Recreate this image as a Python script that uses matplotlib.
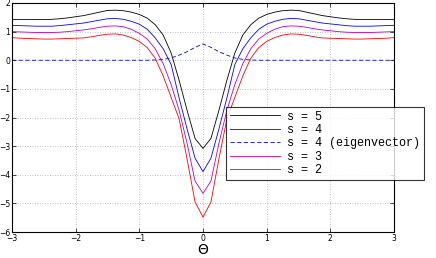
import numpy as np
import matplotlib
matplotlib.use("Agg")
import matplotlib.pyplot as plt

# half-grid (theta >= 0); curves are symmetric about theta = 0
theta_half = [0, 0.125, 0.25, 0.375, 0.5, 0.625, 0.75, 0.875, 1.0, 1.125, 1.25,
              1.375, 1.5, 1.625, 1.75, 1.875, 2.0, 2.125, 2.25, 2.375, 2.5,
              2.625, 2.75, 2.875, 3.0]
s5_half = [-3.08, -2.73, -1.75, -0.70, 0.25, 0.88, 1.24, 1.47, 1.60, 1.68, 1.73,
           1.75, 1.74, 1.68, 1.62, 1.56, 1.52, 1.48, 1.45, 1.43, 1.42,
           1.42, 1.42, 1.42, 1.42]
s4_half = [-3.89, -3.42, -2.40, -1.32, -0.15, 0.40, 0.78, 1.08, 1.26, 1.36, 1.43,
           1.46, 1.45, 1.40, 1.35, 1.30, 1.27, 1.24, 1.21, 1.19, 1.19,
           1.19, 1.20, 1.21, 1.22]
eig_half = [0.57, 0.45, 0.30, 0.18, 0.08, 0.03, 0.01, 0.0, 0.0, 0.0, 0.0,
            0.0, 0.0, 0.0, 0.0, 0.0, 0.0, 0.0, 0.0, 0.0, 0.0,
            0.0, 0.0, 0.0, 0.0]
s3_half = [-4.65, -4.22, -2.90, -1.75, -0.85, -0.12, 0.40, 0.74, 0.94, 1.08, 1.17,
           1.20, 1.19, 1.15, 1.10, 1.06, 1.03, 1.00, 0.98, 0.97, 0.97,
           0.97, 0.98, 0.99, 1.00]
s2_half = [-5.48, -4.95, -3.45, -2.05, -1.30, -0.55, 0.07, 0.44, 0.66, 0.79, 0.88,
           0.92, 0.91, 0.87, 0.82, 0.78, 0.77, 0.76, 0.75, 0.74, 0.74,
           0.75, 0.76, 0.77, 0.79]

labels = ["s = 5", "s = 4", "s = 4 (eigenvector)", "s = 3", "s = 2"]
xticks = [-3, -2, -1, 0, 1, 2, 3]
yticks = [-6, -5, -4, -3, -2, -1, 0, 1, 2]


def mirror(x, y):
    x = np.asarray(x, float)
    y = np.asarray(y, float)
    return np.concatenate([-x[:0:-1], x]), np.concatenate([y[:0:-1], y])


fig = plt.figure(figsize=(4.36, 2.58), dpi=100)
ax = fig.add_axes([12 / 436, 1 - 232 / 258, (394 - 12) / 436, (232 - 3) / 258])

styles = [
    dict(color="k", lw=0.6, ls="-"),
    dict(color="b", lw=0.6, ls="-"),
    dict(color="b", lw=0.6, ls=(0, (5, 3))),
    dict(color="m", lw=0.6, ls="-"),
    dict(color="r", lw=0.6, ls="-"),
]
for ys, lab, st in zip([s5_half, s4_half, eig_half, s3_half, s2_half], labels, styles):
    xx, yy = mirror(theta_half, ys)
    ax.plot(xx, yy, label=lab, **st)

ax.set_xlim(-3, 3)
ax.set_ylim(-6, 2)
ax.set_xticks(xticks)
ax.set_yticks(yticks)
ax.set_xticklabels([("\u2212%d" % -t) if t < 0 else str(t) for t in xticks])
ax.set_yticklabels([("\u2212%d" % -t) if t < 0 else str(t) for t in yticks])
ax.tick_params(direction="in", length=3, width=0.5, labelsize=5.5, pad=1.5,
               top=True, right=True)
ax.grid(True, color="#b0b0b0", ls=(0, (1, 2)), lw=0.6)
for sp in ax.spines.values():
    sp.set_linewidth(0.8)
ax.set_xlabel("\u0398", fontsize=10, labelpad=0)

leg = ax.legend(loc="upper left", bbox_to_anchor=(226 / 436, 1 - 107 / 258),
                bbox_transform=fig.transFigure, prop={"family": "Liberation Mono", "size": 8.5},
                frameon=True, fancybox=False, edgecolor="k", borderpad=0.3,
                labelspacing=0.12, handlelength=4.3, handletextpad=0.6, borderaxespad=0)
leg.get_frame().set_linewidth(0.8)

fig.savefig("out.png", dpi=100)
